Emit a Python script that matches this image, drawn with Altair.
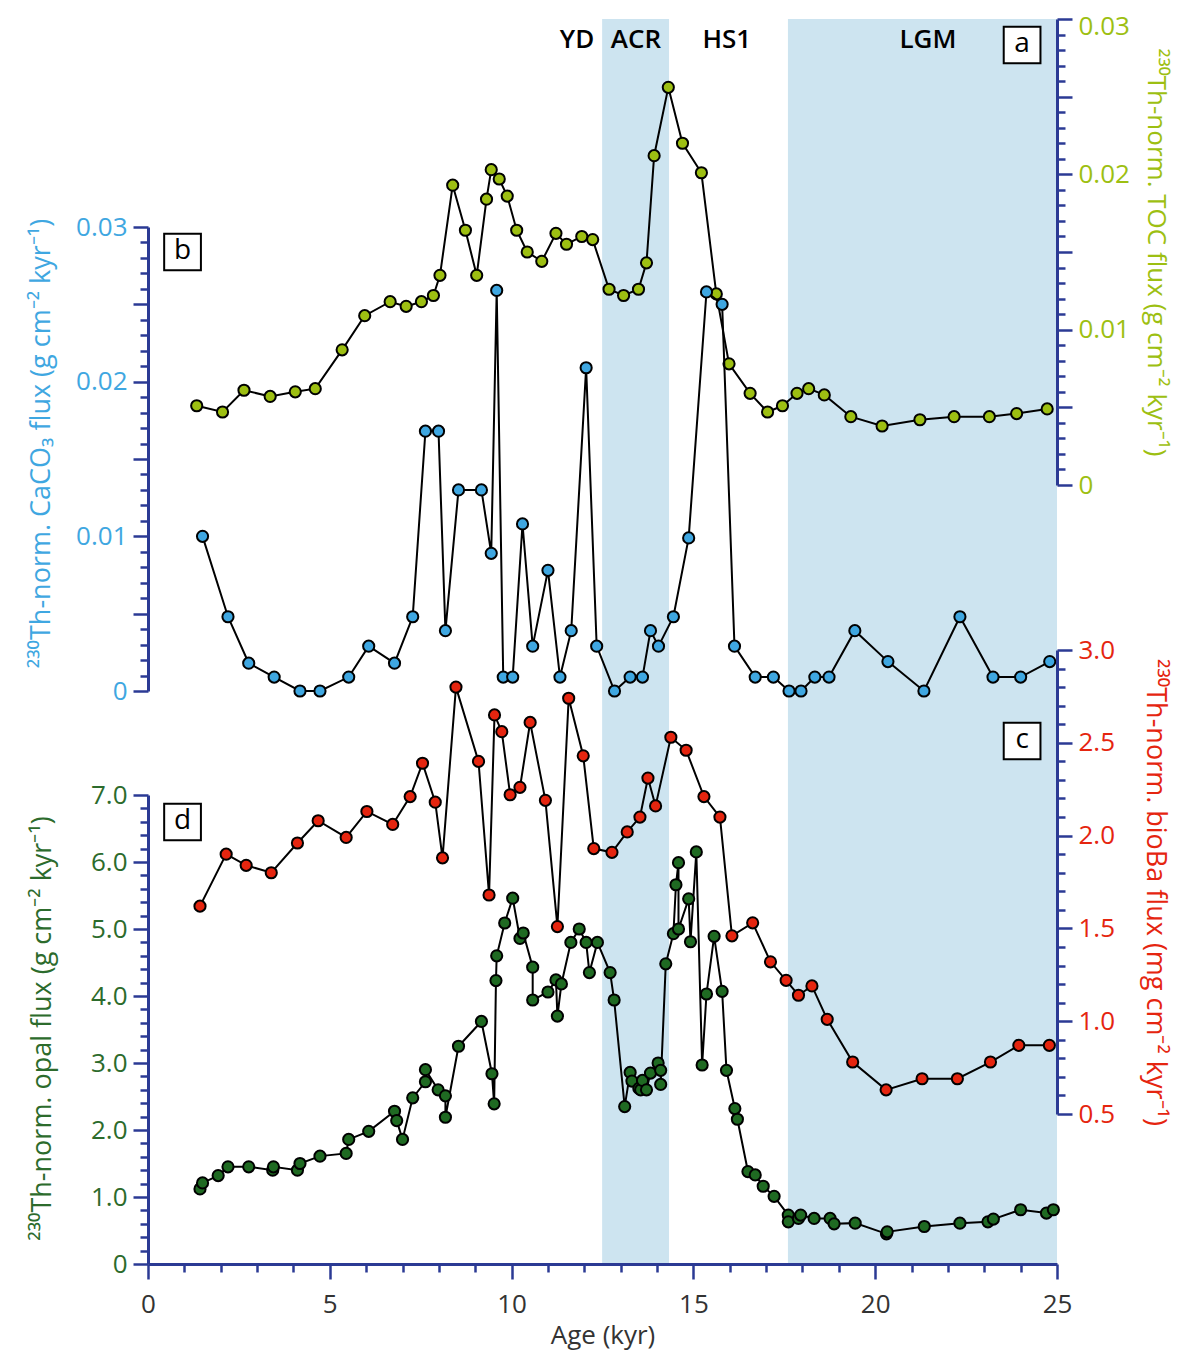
import altair as alt
import pandas as pd

# ---------------- data ----------------
toc_age = [1.34, 2.05, 2.64, 3.36, 4.05, 4.60, 5.34, 5.96, 6.66, 7.10,
           7.52, 7.85, 8.03, 8.38, 8.73, 9.04, 9.31, 9.44, 9.66, 9.88,
           10.14, 10.43, 10.83, 11.22, 11.51, 11.93, 12.23, 12.68, 13.08, 13.49,
           13.71, 13.92, 14.31, 14.70, 15.22, 15.63, 15.98, 16.56, 17.04, 17.45,
           17.85, 18.17, 18.60, 19.33, 20.19, 21.23, 22.17, 23.14, 23.89, 24.73]
toc_val = [0.0051, 0.0047, 0.0061, 0.0057, 0.0060, 0.0062, 0.0087, 0.0109, 0.0118, 0.0115,
           0.0118, 0.0122, 0.0135, 0.0193, 0.0164, 0.0135, 0.0184, 0.0203, 0.0197, 0.0186,
           0.0164, 0.0150, 0.0144, 0.0162, 0.0155, 0.0160, 0.0158, 0.0126, 0.0122, 0.0126,
           0.0143, 0.0212, 0.0256, 0.0220, 0.0201, 0.0123, 0.0078, 0.0059, 0.0047, 0.0051,
           0.0059, 0.0062, 0.0058, 0.0044, 0.0038, 0.0042, 0.0044, 0.0044, 0.0046, 0.0049]

caco3_age = [1.50, 2.20, 2.77, 3.47, 4.18, 4.73, 5.52, 6.07, 6.78, 7.28,
             7.63, 7.99, 8.18, 8.54, 9.17, 9.44, 9.59, 9.77, 10.03, 10.30,
             10.58, 11.00, 11.33, 11.64, 12.05, 12.34, 12.83, 13.26, 13.60, 13.82,
             14.04, 14.45, 14.87, 15.36, 15.79, 16.13, 16.70, 17.20, 17.63, 17.96,
             18.34, 18.73, 19.44, 20.35, 21.34, 22.33, 23.24, 24.00, 24.80]
caco3_val = [0.0100, 0.0048, 0.0018, 0.0009, 0.0, 0.0, 0.0009, 0.0029, 0.0018, 0.0048,
             0.0168, 0.0168, 0.0039, 0.0130, 0.0130, 0.0089, 0.0259, 0.0009, 0.0009, 0.0108,
             0.0029, 0.0078, 0.0009, 0.0039, 0.0209, 0.0029, 0.0, 0.0009, 0.0009, 0.0039,
             0.0029, 0.0048, 0.0099, 0.0258, 0.0250, 0.0029, 0.0009, 0.0009, 0.0, 0.0,
             0.0009, 0.0009, 0.0039, 0.0019, 0.0, 0.0048, 0.0009, 0.0009, 0.0019]

ba_age = [1.43, 2.15, 2.70, 3.39, 4.11, 4.68, 5.45, 6.02, 6.73, 7.21,
          7.55, 7.90, 8.10, 8.47, 9.09, 9.38, 9.53, 9.73, 9.96, 10.23,
          10.51, 10.93, 11.26, 11.57, 11.97, 12.26, 12.76, 13.18, 13.53, 13.75,
          13.96, 14.38, 14.80, 15.29, 15.73, 16.06, 16.63, 17.12, 17.55, 17.89,
          18.26, 18.68, 19.38, 20.30, 21.29, 22.26, 23.17, 23.95, 24.79]
ba_val = [1.62, 1.90, 1.84, 1.80, 1.96, 2.08, 1.99, 2.13, 2.06, 2.21,
          2.39, 2.18, 1.88, 2.80, 2.40, 1.68, 2.65, 2.56, 2.22, 2.26,
          2.61, 2.19, 1.51, 2.74, 2.43, 1.93, 1.91, 2.02, 2.10, 2.31,
          2.16, 2.53, 2.46, 2.21, 2.10, 1.46, 1.53, 1.32, 1.22, 1.14,
          1.19, 1.01, 0.78, 0.63, 0.69, 0.69, 0.78, 0.87, 0.87]

opal_age = [1.43, 1.50, 1.93, 2.20, 2.77, 3.43, 3.45, 4.11, 4.18, 4.73,
            5.45, 5.52, 6.07, 6.78, 6.84, 7.00, 7.28, 7.63, 7.63, 7.98,
            8.18, 8.18, 8.54, 9.17, 9.46, 9.52, 9.57, 9.59, 9.81, 10.03,
            10.23, 10.32, 10.58, 10.58, 11.00, 11.22, 11.26, 11.37, 11.63, 11.86,
            12.05, 12.14, 12.36, 12.71, 12.82, 13.11, 13.26, 13.31, 13.50, 13.55,
            13.60, 13.71, 13.82, 14.03, 14.10, 14.10, 14.24, 14.45, 14.52, 14.59,
            14.59, 14.87, 14.92, 15.08, 15.24, 15.36, 15.57, 15.79, 15.91, 16.14,
            16.21, 16.50, 16.70, 16.92, 17.22, 17.61, 17.61, 17.89, 17.95, 18.32,
            18.76, 18.87, 19.45, 20.31, 20.33, 21.35, 22.33, 23.10, 23.25, 24.00,
            24.71, 24.90]
opal_val = [1.12, 1.21, 1.32, 1.45, 1.45, 1.40, 1.45, 1.40, 1.50, 1.61,
            1.65, 1.86, 1.98, 2.28, 2.14, 1.86, 2.48, 2.72, 2.90, 2.60,
            2.51, 2.19, 3.25, 3.62, 2.84, 2.39, 4.23, 4.60, 5.09, 5.46,
            4.86, 4.94, 4.43, 3.94, 4.06, 4.24, 3.70, 4.18, 4.80, 5.00,
            4.80, 4.35, 4.80, 4.35, 3.94, 2.35, 2.86, 2.73, 2.62, 2.60,
            2.74, 2.60, 2.85, 3.00, 2.89, 2.68, 4.48, 4.93, 5.66, 5.99,
            5.00, 5.45, 4.81, 6.15, 2.97, 4.03, 4.89, 4.07, 2.89, 2.32,
            2.16, 1.38, 1.33, 1.16, 1.01, 0.73, 0.63, 0.68, 0.73, 0.68,
            0.68, 0.60, 0.61, 0.45, 0.48, 0.56, 0.61, 0.63, 0.67, 0.81,
            0.76, 0.81]

band_start = [12.49, 17.60]
band_end = [14.33, 25.0]

period_text = ["YD", "ACR", "HS1", "LGM"]
period_age = [11.80, 13.42, 15.92, 21.45]

panel_text = ["a", "b", "c", "d"]
panel_age = [24.04, 0.95, 24.04, 0.95]

x_ticks = list(range(26))

# ---------------- styling ----------------
FONT = "Open Sans"
AXC = "#2b3a94"
W, H = 909, 1245
C_TOC = "#9dbf12"
C_CACO3 = "#3fa7e1"
C_BA = "#e5250f"
C_OPAL = "#1f6a22"
C_OPAL_TXT = "#2c6b2c"
BAND = "#cde4f0"

xs = alt.Scale(domain=[0, 25], nice=False, zero=False)

common_axis = dict(
    domainColor=AXC, domainWidth=3, tickColor=AXC, tickWidth=2.5,
    grid=False, labelFont=FONT, titleFont=FONT,
    titleFontWeight="normal", labelOverlap=False, labelFlush=False, zindex=1,
)

X_MAJOR = "abs(datum.value/5 - round(datum.value/5)) < 1e-6"
x_axis = alt.Axis(
    orient="bottom", values=x_ticks,
    labelExpr=X_MAJOR + " ? format(datum.value, 'd') : ''",
    tickSize={"condition": {"test": X_MAJOR, "value": 15}, "value": 8},
    labelColor="#333333", labelPadding=12, labelFontSize=26,
    title="Age (kyr)", titleColor="#333333", titlePadding=5, titleFontSize=26,
    **common_axis,
)


def X(field):
    return alt.X(field, scale=xs, axis=x_axis)


def y_axis(orient, values, half_test, label_expr, color, title, title_color,
           title_x, title_y, title_size=27, label_offset=0):
    return alt.Axis(
        orient=orient, values=values, labelExpr=label_expr,
        tickSize={"condition": {"test": half_test, "value": 15}, "value": 8},
        labelColor=color, labelPadding=6, labelFontSize=26, title=title,
        titleColor=title_color, titleX=title_x, titleY=title_y, titleFontSize=title_size,
        titleBaseline="middle", labelOffset=label_offset, **common_axis,
    )


toc_axis = y_axis(
    "right", [round(i * 0.001, 4) for i in range(31)],
    "abs(datum.value*200 - round(datum.value*200)) < 1e-6",
    "abs(datum.value*100 - round(datum.value*100)) < 1e-6 ? (datum.value < 1e-9 ? '0' : format(datum.value, '.2f')) : ''",
    C_TOC, "²³⁰Th-norm. TOC flux (g cm⁻² kyr⁻¹)", C_TOC, 98, 233, title_size=26,
    label_offset={"condition": {"test": "datum.value > 0.0295", "value": 7}, "value": 0})
caco3_axis = y_axis(
    "left", [round(i * 0.001, 4) for i in range(31)],
    "abs(datum.value*200 - round(datum.value*200)) < 1e-6",
    "abs(datum.value*100 - round(datum.value*100)) < 1e-6 ? (datum.value < 1e-9 ? '0' : format(datum.value, '.2f')) : ''",
    C_CACO3, "²³⁰Th-norm. CaCO₃ flux (g cm⁻² kyr⁻¹)", C_CACO3, -107, 424)
ba_axis = y_axis(
    "right", [round(0.5 + i * 0.1, 2) for i in range(26)],
    "abs(datum.value*2 - round(datum.value*2)) < 1e-6",
    "abs(datum.value*2 - round(datum.value*2)) < 1e-6 ? format(datum.value, '.1f') : ''",
    C_BA, "²³⁰Th-norm. bioBa flux (mg cm⁻² kyr⁻¹)", C_BA, 97, 873)
opal_axis = y_axis(
    "left", [round(i * 0.2, 2) for i in range(36)],
    "abs(datum.value - round(datum.value)) < 1e-6",
    "abs(datum.value - round(datum.value)) < 1e-6 ? (datum.value < 1e-9 ? '0' : format(datum.value, '.1f')) : ''",
    C_OPAL_TXT, "²³⁰Th-norm. opal flux (g cm⁻² kyr⁻¹)", C_OPAL_TXT, -106, 1009)


def series(ages, vals, color, domain, rng, axis):
    df = pd.DataFrame({"age": ages, "val": vals, "i": list(range(len(ages)))})
    return alt.Chart(df).mark_line(
        color="black", strokeWidth=2,
        point=alt.OverlayMarkDef(filled=True, fill=color, stroke="black",
                                 strokeWidth=2, size=125, opacity=1),
    ).encode(
        x=X("age:Q"),
        y=alt.Y("val:Q", scale=alt.Scale(domain=domain, range=rng, nice=False, zero=False), axis=axis),
        order=alt.Order("i:Q"),
    )


bands = alt.Chart(pd.DataFrame({"start": band_start, "end": band_end})).mark_rect(
    color=BAND).encode(
    x=X("start:Q"), x2="end:Q",
    y=alt.value(0), y2=alt.value(H))

periods = alt.Chart(pd.DataFrame({"age": period_age, "text": period_text})).mark_text(
    font=FONT, fontSize=26, fontWeight=600, color="black", baseline="middle").encode(
    x=X("age:Q"), y=alt.value(21), text="text:N")

panel_y = [26, 233, 722, 803]
panel_layers = []
for t, a, yy in zip(panel_text, panel_age, panel_y):
    pdf = pd.DataFrame({"age": [a], "text": [t]})
    box = alt.Chart(pdf).mark_point(shape="square", size=1350, filled=True, fill="white",
                                    stroke="black", strokeWidth=2, opacity=1).encode(
        x=X("age:Q"), y=alt.value(yy))
    txt = alt.Chart(pdf).mark_text(font=FONT, fontSize=28, color="black", baseline="middle",
                                   dy=-1).encode(
        x=X("age:Q"), y=alt.value(yy), text="text:N")
    panel_layers += [box, txt]

toc = series(toc_age, toc_val, C_TOC, [0, 0.03], [466, 0], toc_axis)
caco3 = series(caco3_age, caco3_val, C_CACO3, [0, 0.03], [672, 208], caco3_axis)
ba = series(ba_age, ba_val, C_BA, [0.5, 3.0], [1095, 631], ba_axis)
opal = series(opal_age, opal_val, C_OPAL, [0, 7.0], [1245, 776], opal_axis)

chart = alt.layer(
    bands, periods, toc, caco3, ba, opal, *panel_layers
).resolve_scale(y="independent").properties(
    width=W, height=H,
    autosize=alt.AutoSizeParams(type="none"),
    padding={"left": 140, "top": 11, "right": 119, "bottom": 86},
).configure(background="white").configure_view(stroke=None)

chart.save("out.html", embed_options={"renderer": "svg", "actions": False})
